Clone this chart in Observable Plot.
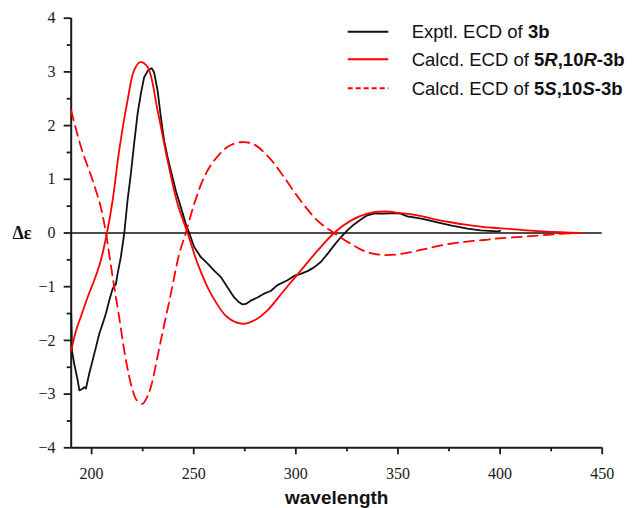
<!DOCTYPE html>
<html>
<head>
<meta charset="utf-8">
<script src="https://cdn.jsdelivr.net/npm/d3@7"></script>
<script src="https://cdn.jsdelivr.net/npm/@observablehq/plot@0.6"></script>
<style>
  html, body { margin: 0; padding: 0; background: #fff; }
  #chart { position: relative; width: 632px; height: 508px; }
  #legend { position: absolute; left: 0; top: 0; pointer-events: none; }
  #chart svg text { font-family: 'Liberation Serif', 'Times New Roman', serif; }
  #chart svg text.sans, #chart #legend text { font-family: 'Liberation Sans', Arial, sans-serif; }
</style>
</head>
<body>
<div id="chart"></div>
<script>
// ---- Data ----
const expWl = [190, 190.4, 191.5, 193.2, 194, 195.6, 196.4, 197.2, 198.8, 200.5, 202.1, 203.7, 205.4, 207, 208.6, 210.3, 211.9, 212.7, 214.3, 216, 217.6, 219.2, 220.8, 222.5, 224.1, 225.7, 227.7, 229.4, 230.6, 232.3, 233.9, 235.5, 237.2, 238.8, 241.2, 243.7, 246.1, 247.8, 250.2, 253.5, 256.8, 260, 263.3, 266.5, 269.8, 272.2, 273.9, 275.5, 277.9, 281.2, 284.4, 287.7, 291, 295.9, 299.1, 302.4, 305.7, 308.9, 312.2, 315.5, 318.7, 322, 325.2, 328.5, 331.8, 335, 338.3, 343.2, 348, 351.3, 354.6, 357.8, 362.7, 369.3, 375.8, 384, 390.5, 398.6, 400];
const expDe = [-1.5, -2.2, -2.44, -2.75, -2.93, -2.9, -2.87, -2.9, -2.62, -2.37, -2.13, -1.88, -1.69, -1.5, -1.26, -1.04, -0.95, -0.76, -0.45, 0, 0.61, 1.1, 1.66, 2.22, 2.59, 2.9, 3.03, 3.07, 2.99, 2.65, 2.16, 1.72, 1.41, 1.16, 0.79, 0.48, 0.17, 0, -0.26, -0.45, -0.57, -0.7, -0.82, -1.01, -1.2, -1.29, -1.33, -1.32, -1.26, -1.2, -1.13, -1.08, -0.97, -0.88, -0.8, -0.76, -0.71, -0.64, -0.54, -0.39, -0.23, -0.08, 0.05, 0.16, 0.25, 0.33, 0.36, 0.36, 0.37, 0.36, 0.31, 0.29, 0.26, 0.2, 0.14, 0.08, 0.05, 0.03, 0.04];

const calcRWl = [190, 192.5, 194.8, 198, 201.3, 204.5, 207.5, 210.3, 213.5, 217.6, 220.8, 223.8, 227.4, 232.3, 237.2, 242.1, 247, 251.9, 258.4, 266.5, 273.9, 280, 286.1, 294.2, 302.4, 310.6, 318.7, 326.9, 335, 343.2, 351.3, 359.5, 367.6, 375.8, 384, 392.1, 399.4, 413, 429.6, 440];
const calcRDe = [-2.19, -1.8, -1.55, -1.2, -0.88, -0.51, 0, 0.61, 1.54, 2.47, 3.03, 3.18, 3.09, 2.28, 1.35, 0.54, 0, -0.57, -1.13, -1.57, -1.69, -1.62, -1.44, -1.07, -0.7, -0.33, 0, 0.23, 0.36, 0.4, 0.37, 0.33, 0.26, 0.2, 0.15, 0.11, 0.09, 0.05, 0.015, 0];

const calcSWl = [190, 194.8, 200.5, 204.5, 207, 210.3, 213.5, 216.8, 220.1, 222.2, 225, 227.1, 229, 233.9, 238.8, 242.9, 246.1, 250.2, 255.1, 260, 266.5, 273, 279.5, 287.7, 294.2, 302.4, 310.6, 318.7, 326.9, 335, 343.2, 351.3, 359.5, 367.6, 375.8, 384, 392.1, 399.4, 413, 429.6, 439.5];
const calcSDe = [2.28, 1.6, 0.98, 0.48, 0, -0.82, -1.57, -2.37, -2.93, -3.12, -3.18, -3.06, -2.87, -2.0, -1.13, -0.39, 0, 0.54, 1.04, 1.35, 1.6, 1.69, 1.65, 1.37, 1.04, 0.6, 0.23, 0, -0.2, -0.36, -0.41, -0.39, -0.33, -0.26, -0.2, -0.16, -0.13, -0.1, -0.065, -0.015, 0];

const xMajor = [200, 250, 300, 350, 400, 450];
const xMinor = [225, 275, 325, 375, 425];
const yMajor = [-4, -3, -2, -1, 0, 1, 2, 3, 4];
const yMinor = [-3.5, -2.5, -1.5, -0.5, 0.5, 1.5, 2.5, 3.5];

const legendItems = [
  {color: "#111", dash: null, parts: [["Exptl. ECD of ", "normal", "normal"], ["3b", "bold", "normal"]]},
  {color: "#f00", dash: null, parts: [["Calcd. ECD of ", "normal", "normal"], ["5", "bold", "normal"], ["R", "bold", "italic"], [",10", "bold", "normal"], ["R", "bold", "italic"], ["-3b", "bold", "normal"]]},
  {color: "#f00", dash: "5,3", parts: [["Calcd. ECD of ", "normal", "normal"], ["5", "bold", "normal"], ["S", "bold", "italic"], [",10", "bold", "normal"], ["S", "bold", "italic"], ["-3b", "bold", "normal"]]}
];

const toRows = (wl, de) => wl.map((w, i) => ({w, de: de[i]}));
const exp = toRows(expWl, expDe);
const calcR = toRows(calcRWl, calcRDe);
const calcS = toRows(calcSWl, calcSDe);

const axisColor = "#1a1a1a";
const serif = "'Liberation Serif', 'Times New Roman', serif";
const sans = "'Liberation Sans', Arial, sans-serif";
const fmt = d => (d < 0 ? "\u2212" + Math.abs(d) : String(d));

const chart = Plot.plot({
  width: 632,
  height: 508,
  marginLeft: 70.7,
  marginRight: 30.3,
  marginTop: 17.7,
  marginBottom: 60.7,
  style: {fontFamily: serif, fontSize: "16px", color: axisColor, background: "#fff", overflow: "visible"},
  x: {domain: [190, 450]},
  y: {domain: [-4, 4]},
  marks: [
    Plot.axisX(xMajor, {tickSize: 7, tickPadding: 12.5, strokeWidth: 1.8, label: null, fontSize: 16, fontFamily: serif, tickFormat: fmt}),
    Plot.axisX(xMinor, {tickSize: 4, strokeWidth: 1.8, tickFormat: () => "", label: null}),
    Plot.axisY(yMajor, {tickSize: 7, tickPadding: 8.7, strokeWidth: 1.8, label: null, fontSize: 16, fontFamily: serif, tickFormat: fmt}),
    Plot.axisY(yMinor, {tickSize: 4, strokeWidth: 1.8, tickFormat: () => "", label: null}),
    Plot.ruleY([-4], {stroke: axisColor, strokeWidth: 2}),
    Plot.ruleX([190], {stroke: axisColor, strokeWidth: 2}),
    Plot.ruleY([0], {x1: 190, x2: 450, stroke: "#111", strokeWidth: 1.6}),
    Plot.line(exp, {x: "w", y: "de", stroke: "#111", strokeWidth: 1.8, curve: "linear"}),
    Plot.line(calcS, {x: "w", y: "de", stroke: "#f00", strokeWidth: 1.8, strokeDasharray: "10,6", curve: "catmull-rom"}),
    Plot.line(calcR, {x: "w", y: "de", stroke: "#f00", strokeWidth: 1.8, curve: "catmull-rom"}),
    Plot.text(["Δε"], {y: [0], frameAnchor: "left", dx: -49.2, lineAnchor: "middle", textAnchor: "middle", fontWeight: "bold", fontSize: 18, fontFamily: serif, fill: "#111"}),
    Plot.text(["wavelength"], {frameAnchor: "bottom", dy: 55.7, lineAnchor: "bottom", textAnchor: "middle", fontWeight: "bold", fontSize: 19, fontFamily: sans, fill: "#111"})
  ]
});
document.getElementById("chart").appendChild(chart);
d3.select(chart).selectAll("text").filter(function() { return this.textContent === "wavelength"; }).classed("sans", true);

// ---- Legend overlay ----
const leg = d3.select("#chart").append("svg")
  .attr("id", "legend").attr("width", 632).attr("height", 508);
const rowY = [31.7, 59.3, 88.3];
legendItems.forEach((it, i) => {
  const y = rowY[i];
  leg.append("line").attr("x1", 347.7).attr("x2", 388.3).attr("y1", y).attr("y2", y)
    .attr("stroke", it.color).attr("stroke-width", 2)
    .attr("stroke-dasharray", it.dash);
  const t = leg.append("text").attr("x", 411.7).attr("y", y).attr("dy", "0.35em")
    .attr("font-family", sans).attr("font-size", 18.5).attr("fill", "#111");
  it.parts.forEach(([s, fw, fs]) => {
    t.append("tspan").attr("font-weight", fw).attr("font-style", fs).text(s);
  });
});
</script>
</body>
</html>
